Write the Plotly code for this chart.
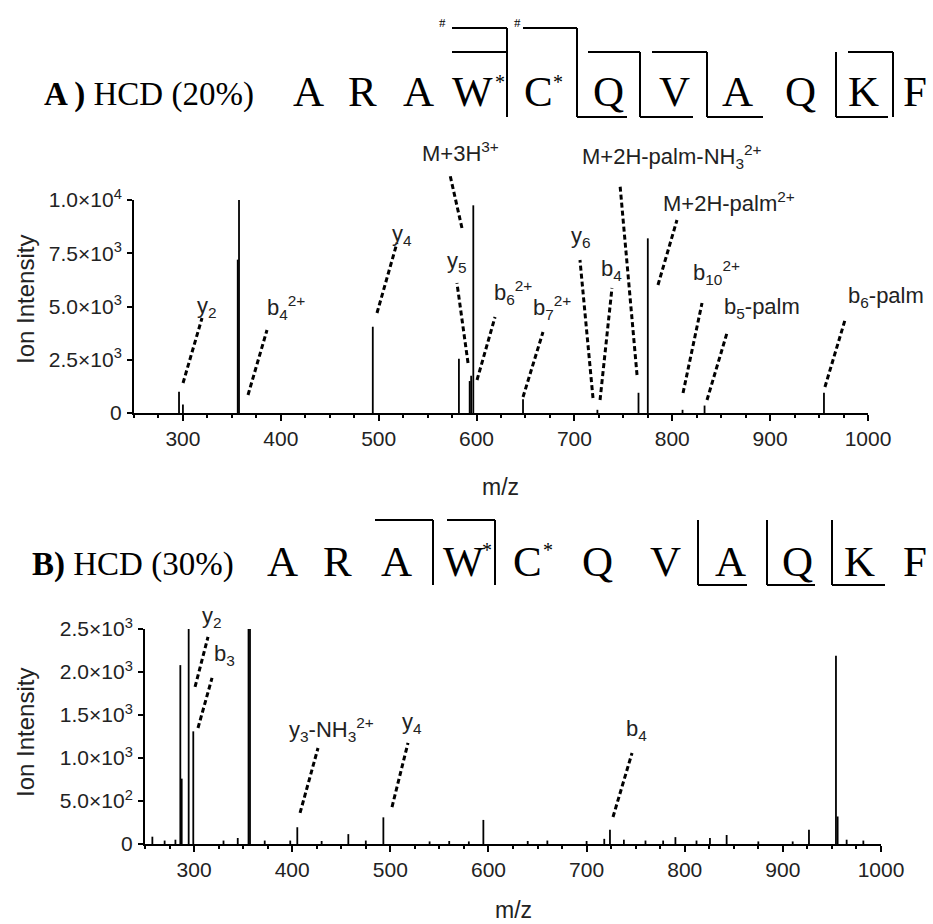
import plotly.graph_objects as go

# ---------------- data ----------------
# Panel A : HCD (20%)
mz_A = [296, 300, 356, 357.3, 494, 582, 593, 594.5, 596.7, 647.5, 723.5, 765.5, 775, 810.5, 833, 955]
int_A = [1000, 400, 7200, 10000, 4050, 2550, 1500, 1750, 9750, 650, 150, 950, 8200, 150, 350, 950]

# Panel B : HCD (30%)
mz_B = [257.5, 270, 281, 286, 287.4, 294.5, 299.2, 330, 344.5, 355.5, 357, 372, 398, 405.2, 430,
        457.2, 475, 492.9, 540, 560, 580, 594.8, 640, 660, 700, 718, 723.8, 738, 760, 778, 790.5,
        812, 825.7, 842.7, 875, 910, 926.6, 954.1, 955.8, 965, 982]
int_B = [85, 40, 50, 2080, 760, 2500, 1310, 40, 70, 2500, 2500, 40, 40, 195, 35,
         115, 40, 310, 30, 35, 30, 280, 35, 40, 35, 60, 165, 50, 40, 40, 80,
         40, 70, 105, 30, 30, 165, 2190, 320, 50, 40]

sequence = ["A", "R", "A", "W", "C", "Q", "V", "A", "Q", "K", "F"]
yticks_A = [0, 2500, 5000, 7500, 10000]
yticktext_A = ["0", "2.5×10<sup>3</sup>", "5.0×10<sup>3</sup>", "7.5×10<sup>3</sup>", "1.0×10<sup>4</sup>"]
yticks_B = [0, 500, 1000, 1500, 2000, 2500]
yticktext_B = ["0", "5.0×10<sup>2</sup>", "1.0×10<sup>3</sup>", "1.5×10<sup>3</sup>",
               "2.0×10<sup>3</sup>", "2.5×10<sup>3</sup>"]

# fragment labels: text, label (m/z, intensity), leader line bottom, leader line top
labels_A = [
    ("y<sub>2</sub>", 324.6, 4977, (300.1, 1408), (319.5, 4460)),
    ("b<sub>4</sub><sup>2+</sup>", 405, 4930, (366.5, 845), (385.9, 3897)),
    ("y<sub>4</sub>", 523.8, 8357, (498.3, 4695), (518.7, 7981)),
    ("M+3H<sup>3+</sup>", 584, 12254, (585.1, 8686), (572.9, 11174)),
    ("y<sub>5</sub>", 580, 7089, (591.3, 2347), (580.0, 6103)),
    ("b<sub>6</sub><sup>2+</sup>", 637, 5634, (600.5, 1549), (618.9, 4507)),
    ("b<sub>7</sub><sup>2+</sup>", 677, 4930, (647.5, 751), (667.9, 3803)),
    ("y<sub>6</sub>", 706.7, 8263, (719.0, 704), (705.7, 7183)),
    ("b<sub>4</sub>", 737.4, 6714, (726.2, 610), (738.4, 5869)),
    ("M+2H-palm-NH<sub>3</sub><sup>2+</sup>", 799.7, 12019, (764.0, 1784), (746.6, 10705)),
    ("M+2H-palm<sup>2+</sup>", 858, 9906, (785.4, 6010), (804.8, 9061)),
    ("b<sub>10</sub><sup>2+</sup>", 844.7, 6573, (811.0, 939), (830.4, 5164)),
    ("b<sub>5</sub>-palm", 891.7, 4930, (835.5, 610), (855.9, 3756)),
    ("b<sub>6</sub>-palm", 1018, 5446, (956.0, 1221), (976.5, 4366)),
]
labels_B = [
    ("y<sub>2</sub>", 318.3, 2640, (301.0, 1826), (314.2, 2407)),
    ("b<sub>3</sub>", 331.5, 2198, (304.0, 1349), (318.3, 1931)),
    ("y<sub>3</sub>-NH<sub>3</sub><sup>2+</sup>", 440, 1326, (408.0, 361), (426.3, 1116)),
    ("y<sub>4</sub>", 522, 1407, (501.7, 430), (518.0, 1175)),
    ("b<sub>4</sub>", 751.3, 1326, (726.9, 314), (746.3, 1058)),
]

# ---------------- layout geometry (pixels) ----------------
W, H = 933, 924
XMIN, XMAX = 250, 1000
PANELS = {
    "A": dict(x0=134, x1=868, ytop=200, ybot=413, ymax=10000),
    "B": dict(x0=145, x1=881, ytop=629, ybot=844, ymax=2500),
}


def P(xpx, ypx):
    return xpx / W, 1 - ypx / H


def d2p(panel, mz, inten):
    g = PANELS[panel]
    xpx = g["x0"] + (mz - XMIN) / (XMAX - XMIN) * (g["x1"] - g["x0"])
    ypx = g["ybot"] - inten / g["ymax"] * (g["ybot"] - g["ytop"])
    return P(xpx, ypx)


def stems(mz, inten):
    xs, ys = [], []
    for m, v in zip(mz, inten):
        xs += [m, m, None]
        ys += [0, v, None]
    return xs, ys


fig = go.Figure()
xa, ya = stems(mz_A, int_A)
fig.add_trace(go.Scatter(x=xa, y=ya, mode="lines", line=dict(color="black", width=1.8),
                         xaxis="x", yaxis="y", showlegend=False, hoverinfo="skip"))
xb, yb = stems(mz_B, int_B)
fig.add_trace(go.Scatter(x=xb, y=yb, mode="lines", line=dict(color="black", width=1.8),
                         xaxis="x2", yaxis="y2", showlegend=False, hoverinfo="skip"))

sans = "Liberation Sans, Arial, sans-serif"
serif = "Liberation Serif, Times New Roman, serif"
tickfont = dict(family=sans, size=21, color="#222")


def xax(panel):
    g = PANELS[panel]
    return dict(domain=[g["x0"] / W, g["x1"] / W], range=[XMIN, XMAX], showgrid=False, zeroline=False,
                showline=True, linecolor="black", linewidth=2, ticks="outside", ticklen=6, tickwidth=2,
                tickcolor="black", tick0=0, dtick=100, tickfont=tickfont,
                minor=dict(ticks="outside", ticklen=3, tickwidth=1.5, dtick=25, tick0=0, tickcolor="black",
                           showgrid=False),
                anchor="y" if panel == "A" else "y2", fixedrange=True)


def yax(panel, tv, tt):
    g = PANELS[panel]
    return dict(domain=[1 - g["ybot"] / H, 1 - g["ytop"] / H], range=[0, g["ymax"]], showgrid=False,
                zeroline=False, showline=True, linecolor="black", linewidth=2, ticks="outside",
                ticklen=5, tickwidth=2, tickcolor="black", tickvals=tv, ticktext=tt, tickfont=tickfont,
                ticklabelstandoff=1,
                anchor="x" if panel == "A" else "x2", fixedrange=True)


annotations = []
shapes = []

# axis titles
for panel, xl_y, yl_y in (("A", 487, 300), ("B", 910, 733)):
    g = PANELS[panel]
    x, y = P((g["x0"] + g["x1"]) / 2, xl_y)
    annotations.append(dict(text="m/z", x=x, y=y, xref="paper", yref="paper", showarrow=False,
                            font=dict(family=sans, size=23, color="#222"), xanchor="center", yanchor="middle"))
    x, y = P(25, yl_y)
    annotations.append(dict(text="Ion Intensity", x=x, y=y, xref="paper", yref="paper", showarrow=False,
                            textangle=-90, font=dict(family=sans, size=24, color="#222"),
                            xanchor="center", yanchor="middle"))

# fragment labels and dashed leader lines
for panel, labels in (("A", labels_A), ("B", labels_B)):
    for text, lx, ly, (bx, by), (tx, ty) in labels:
        x, y = d2p(panel, lx, ly)
        annotations.append(dict(text=text, x=x, y=y, xref="paper", yref="paper", showarrow=False,
                                font=dict(family=sans, size=22, color="#222"),
                                xanchor="center", yanchor="middle"))
        x0, y0 = d2p(panel, bx, by)
        x1, y1 = d2p(panel, tx, ty)
        shapes.append(dict(type="line", xref="paper", yref="paper", x0=x0, y0=y0, x1=x1, y1=y1,
                           line=dict(color="black", width=3, dash="5px,3px")))

# headers with peptide sequences
seq_x_A = [308, 362, 418, 472, 538, 608, 674, 737, 800, 863, 915]
seq_x_B = [282, 337, 396, 463, 527, 597, 665, 730, 797, 859, 915]
headers = [
    ("<b>A )</b> HCD (20%)", 42, 95, seq_x_A, 92, [(500, 82), (558, 82)]),
    ("<b>B)</b> HCD (30%)", 30, 564, seq_x_B, 561, [(487, 550), (548, 550)]),
]
for title, tx, ty, sx, sy, stars in headers:
    x, y = P(tx, ty)
    annotations.append(dict(text=title, x=x, y=y, xref="paper", yref="paper", showarrow=False,
                            font=dict(family=serif, size=33, color="black"), xanchor="left", yanchor="middle"))
    for letter, lx in zip(sequence, sx):
        x, y = P(lx, sy)
        annotations.append(dict(text=letter, x=x, y=y, xref="paper", yref="paper", showarrow=False,
                                font=dict(family=serif, size=43, color="black"),
                                xanchor="center", yanchor="middle"))
    for (ax_, ay_) in stars:
        x, y = P(ax_, ay_)
        annotations.append(dict(text="*", x=x, y=y, xref="paper", yref="paper", showarrow=False,
                                font=dict(family=serif, size=20, color="black"),
                                xanchor="center", yanchor="middle"))

for (hx, hy) in ((442, 23), (517, 23)):
    x, y = P(hx, hy)
    annotations.append(dict(text="#", x=x, y=y, xref="paper", yref="paper", showarrow=False,
                            font=dict(family=serif, size=13, color="black"), xanchor="center", yanchor="middle"))

bracket_segments = [
    # panel A
    ((452, 28), (507, 28)), ((452, 52), (507, 52)), ((507, 28), (507, 117)),
    ((523, 28), (577, 28)), ((577, 28), (577, 117)), ((577, 117), (627, 117)),
    ((588, 52), (640, 52)), ((640, 52), (640, 117)), ((640, 117), (693, 117)),
    ((652, 52), (707, 52)), ((707, 52), (707, 117)), ((707, 117), (763, 117)),
    ((836, 52), (836, 117)), ((836, 117), (888, 117)), ((848, 52), (893, 52)), ((893, 52), (893, 117)),
    # panel B
    ((375, 520), (433, 520)), ((433, 520), (433, 585)), ((447, 520), (495, 520)), ((495, 520), (495, 585)),
    ((698, 520), (698, 585)), ((698, 585), (747, 585)),
    ((767, 520), (767, 585)), ((767, 585), (815, 585)),
    ((832, 520), (832, 585)), ((832, 585), (885, 585)),
]
for (a, b) in bracket_segments:
    x0, y0 = P(*a)
    x1, y1 = P(*b)
    shapes.append(dict(type="line", xref="paper", yref="paper", x0=x0, y0=y0, x1=x1, y1=y1,
                       line=dict(color="black", width=2)))

fig.update_layout(
    width=W, height=H, margin=dict(l=0, r=0, t=0, b=0, pad=0, autoexpand=False),
    paper_bgcolor="white", plot_bgcolor="white", showlegend=False,
    xaxis=xax("A"), yaxis=yax("A", yticks_A, yticktext_A),
    xaxis2=xax("B"), yaxis2=yax("B", yticks_B, yticktext_B),
    annotations=annotations, shapes=shapes,
)

fig.write_html("out.html", config={"displayModeBar": False})
